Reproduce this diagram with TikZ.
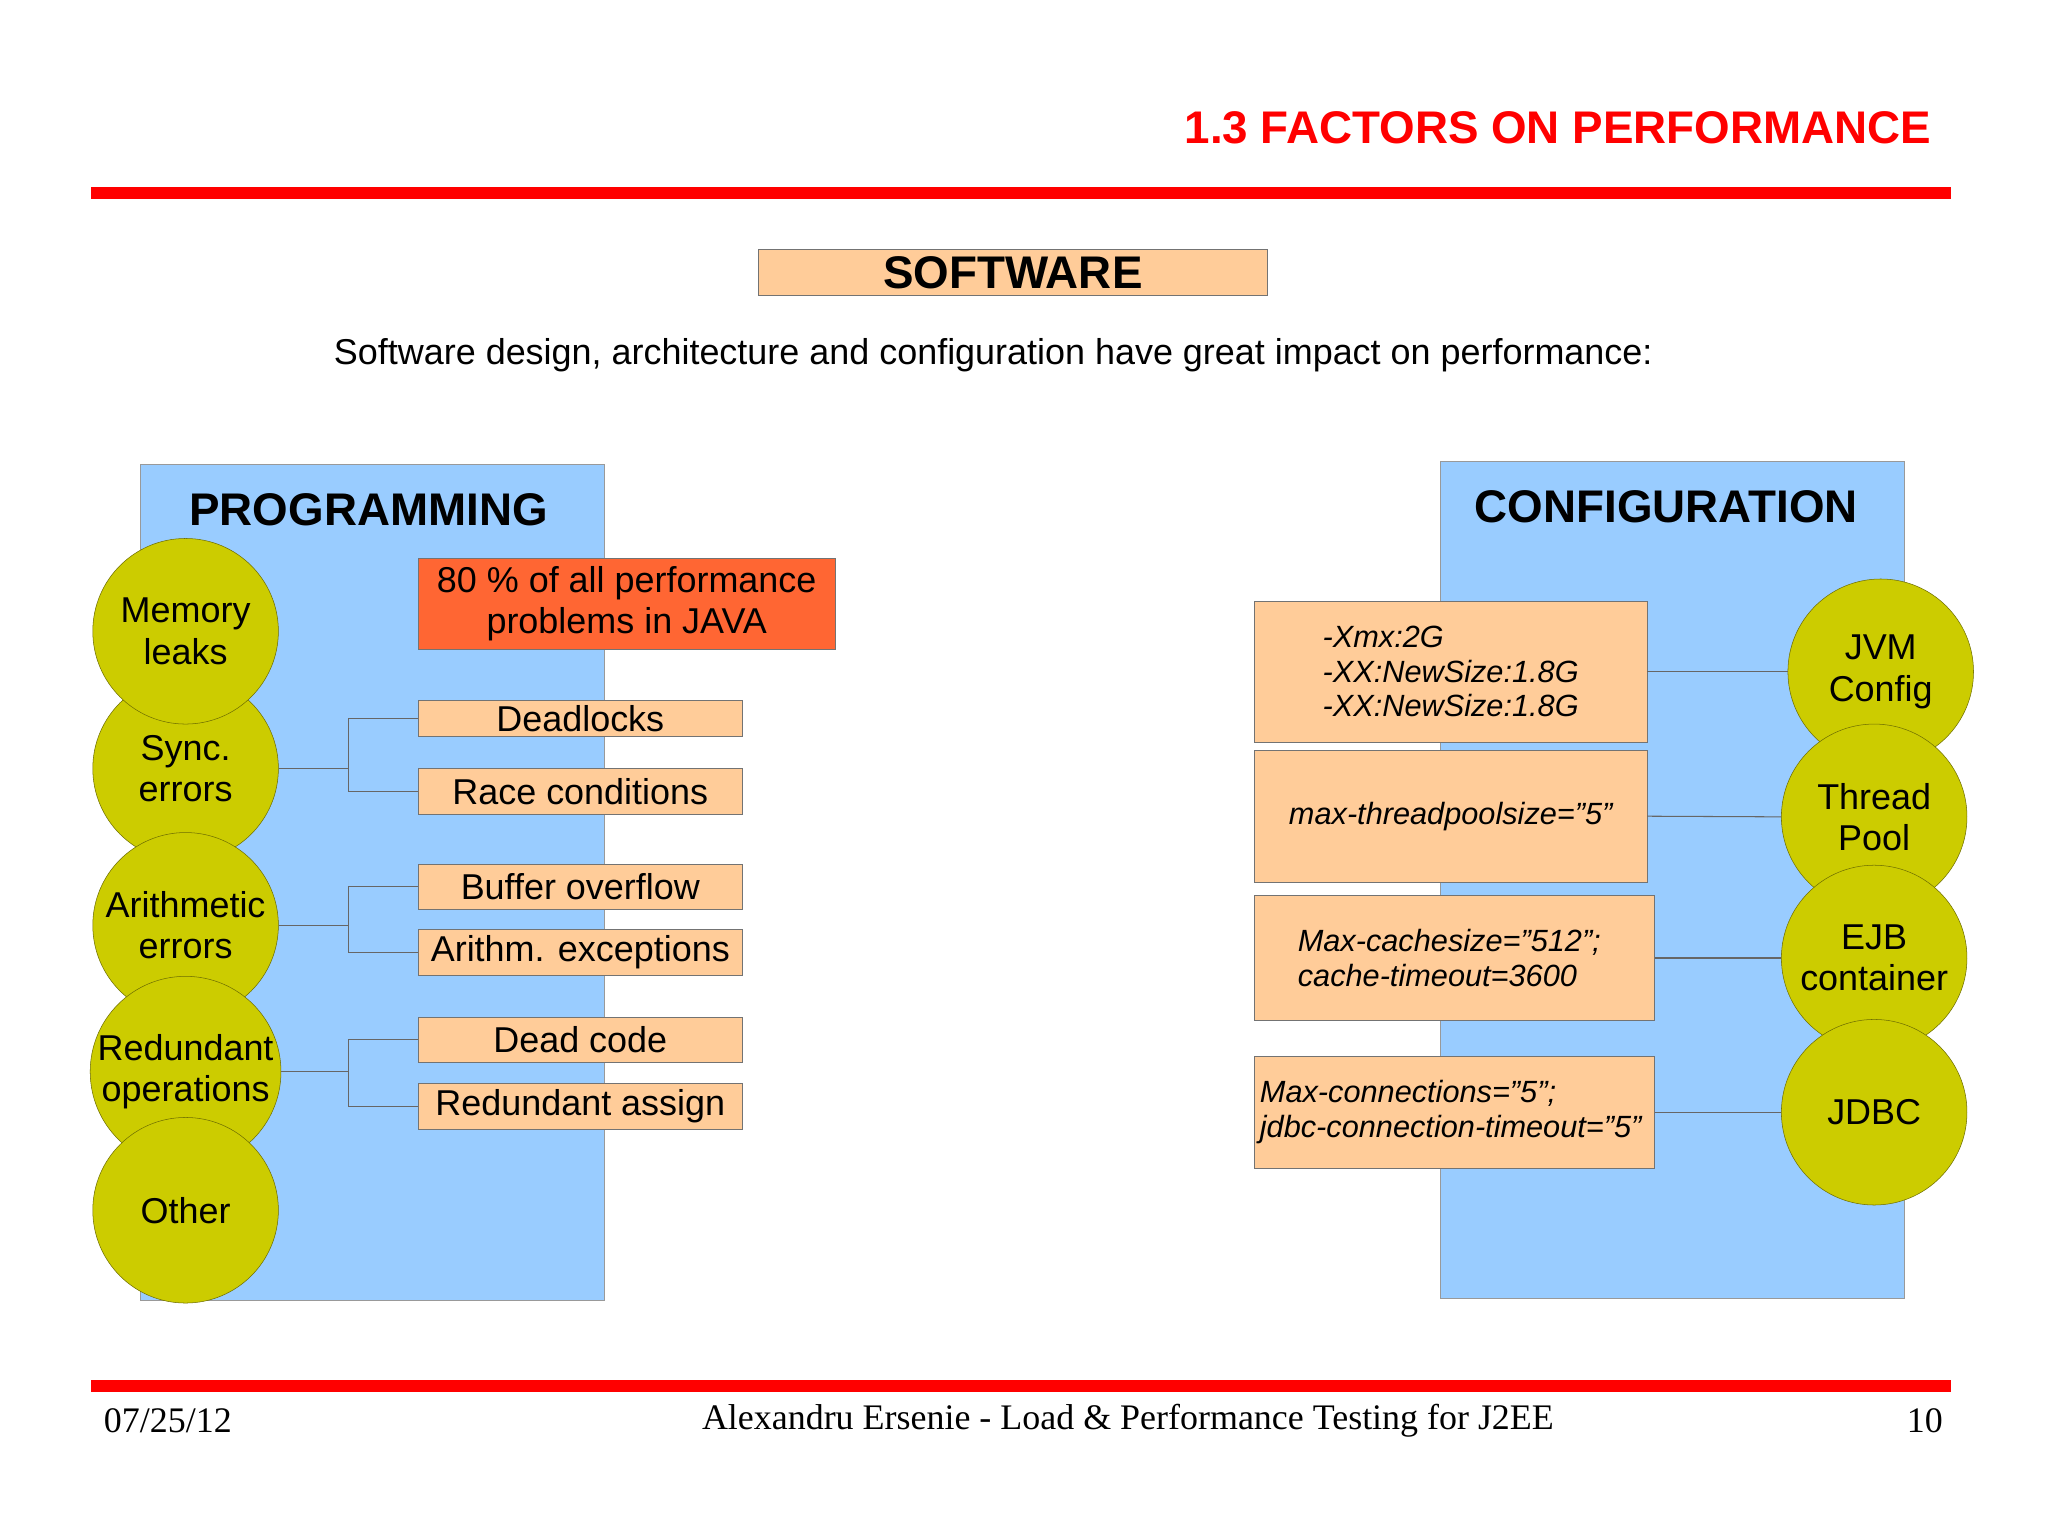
\documentclass[tikz,border=0pt]{standalone}
\usepackage{fontspec}
\setmainfont{Liberation Sans}
\newfontfamily\seriff{Liberation Serif}
\begin{document}
\begin{tikzpicture}[x=1pt,y=-1pt,
  peach/.style={draw=black!55,fill={rgb,255:red,255;green,204;blue,153},inner sep=0pt,font=\fontsize{27.5}{31}\selectfont},
  panel/.style={draw=black!40,fill={rgb,255:red,153;green,204;blue,255}},
  circ/.style={circle,draw={rgb,255:red,110;green,110;blue,0},fill={rgb,255:red,204;green,204;blue,0},minimum size=142pt,inner sep=0pt,align=center,font=\fontsize{27.5}{31.5}\selectfont},
  conn/.style={draw=black!60,line width=0.8pt},
  cfg/.style={peach,font=\itshape\fontsize{23.5}{26.5}\selectfont,align=left}]
\useasboundingbox (0,0) rectangle (1567,1175);
\fill[white] (0,0) rectangle (1567,1175);
\node[anchor=east,text=red,font=\bfseries\fontsize{35}{40}\selectfont] (title) at (1481,98) {1.3 FACTORS ON PERFORMANCE};
\fill[red] (70,143) rectangle (1493,152);
\fill[red] (70,1056) rectangle (1493,1065);
\node[peach,minimum width=390pt,minimum height=35pt,font=\bfseries\fontsize{35}{38}\selectfont] (sw) at (775,208.5) {SOFTWARE};
\node[font=\fontsize{27.5}{31}\selectfont] (sub) at (760,272) {Software design, architecture and configuration have great impact on performance:};
% programming
\draw[panel] (107,355) rectangle (462,995);
\node[font=\bfseries\fontsize{35}{38}\selectfont] (prog) at (282,390) {PROGRAMMING};
\node[peach,fill={rgb,255:red,255;green,102;blue,51},minimum width=319pt,minimum height=70pt,align=center] (red) at (479.5,462) {80 \% of all performance\\problems in JAVA};
\node[peach,minimum width=248pt,minimum height=27pt] (b1) at (444,549.5) {Deadlocks};
\node[peach,minimum width=248pt,minimum height=35pt] (b2) at (444,605.5) {Race conditions};
\node[peach,minimum width=248pt,minimum height=35pt] (b3) at (444,678.5) {Buffer overflow};
\node[peach,minimum width=248pt,minimum height=35pt] (b4) at (444,728.5) {Arithm. exceptions};
\node[peach,minimum width=248pt,minimum height=35pt] (b5) at (444,795.5) {Dead code};
\node[peach,minimum width=248pt,minimum height=35pt] (b6) at (444,846.5) {Redundant assign};
\node[circ] (c2) at (142,588) {Sync.\\errors};
\node[circ] (c1) at (142,483) {Memory\\leaks};
\node[circ] (c3) at (142,708) {Arithmetic\\errors};
\node[circ] (c4) at (142,820) {Redundant\\operations};
\node[circ] (c5) at (142,926) {Other};
\coordinate (j1) at (267,588);
\coordinate (j2) at (267,708);
\coordinate (j3) at (267,820);
\draw[conn] (c2.east) -- (j1) |- (b1.west);
\draw[conn] (j1) |- (b2.west);
\draw[conn] (c3.east) -- (j2) |- (b3.west);
\draw[conn] (j2) |- (b4.west);
\draw[conn] (c4.east) -- (j3) |- (b5.west);
\draw[conn] (j3) |- (b6.west);
% configuration
\draw[panel] (1102,353) rectangle (1457,993);
\node[font=\bfseries\fontsize{35}{38}\selectfont] (conf) at (1275,388) {CONFIGURATION};
\node[cfg,minimum width=300pt,minimum height=108pt,text width=250pt] (k1) at (1110,514) {\hspace*{27pt}-Xmx:2G\\\hspace*{27pt}-XX:NewSize:1.8G\\\hspace*{27pt}-XX:NewSize:1.8G};
\node[cfg,minimum width=300pt,minimum height=101pt] (k2) at (1110,624.5) {max-threadpoolsize=”5”};
\node[cfg,minimum width=306pt,minimum height=96pt,text width=240pt] (k3) at (1113,733) {Max-cachesize=”512”;\\cache-timeout=3600};
\node[cfg,minimum width=306pt,minimum height=86pt,text width=298pt] (k4) at (1113,851) {Max-connections=”5”;\\jdbc-connection-timeout=”5”};
\node[circ] (r1) at (1439,514) {JVM\\Config};
\node[circ] (r2) at (1434,625) {Thread\\Pool};
\node[circ] (r3) at (1434,733) {EJB\\container};
\node[circ] (r4) at (1434,851) {JDBC};
\draw[conn] (k1.east) -- (r1.west);
\draw[conn] (k2.east) -- (r2.west);
\draw[conn] (k3.east) -- (r3.west);
\draw[conn] (k4.east) -- (r4.west);
% footer
\node[anchor=west,font=\seriff\fontsize{27.5}{31}\selectfont] (f1) at (76,1087) {07/25/12};
\node[font=\seriff\fontsize{27.5}{31}\selectfont] (f2) at (863,1087) {Alexandru Ersenie - Load \& Performance Testing for J2EE};
\node[anchor=east,font=\seriff\fontsize{27.5}{31}\selectfont] (f3) at (1490,1087) {10};
\end{tikzpicture}
\end{document}
